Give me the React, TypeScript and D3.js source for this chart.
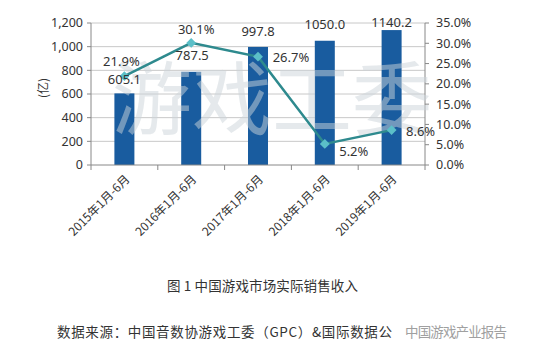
import React from "react";
import * as d3 from "d3";

const categories = ["2015年1月-6月", "2016年1月-6月", "2017年1月-6月", "2018年1月-6月", "2019年1月-6月"];
const revenue = [605.1, 787.5, 997.8, 1050.0, 1140.2];
const growth = [21.9, 30.1, 26.7, 5.2, 8.6];
const leftTicks = [0, 200, 400, 600, 800, 1000, 1200];
const rightTicks = [0, 5, 10, 15, 20, 25, 30, 35];
// label offsets (dx, dy) relative to mark
const revLabelOff: [number, number][] = [[0, -14], [1, -16], [0, -15], [0, -16], [0, -8]];
const growthLabelOff: [number, number][] = [[-3, -15], [5, -13], [33, 1], [29, 8], [29, 1]];

const FONT = "'Noto Sans', 'Noto Sans CJK SC', sans-serif";
const CJK = "'Noto Sans CJK SC', sans-serif";

export default function App() {
  const left = 91, right = 425, top = 23, bottom = 165;
  const x = d3.scaleBand<string>().domain(categories).range([left, right]);
  const yL = d3.scaleLinear().domain([0, 1200]).range([bottom, top]);
  const yR = d3.scaleLinear().domain([0, 35]).range([bottom, top]);
  const barW = 20;
  const cx = (c: string) => (x(c) ?? 0) + x.bandwidth() / 2;
  const lineGen = d3.line<number>().x((_, i) => cx(categories[i])).y((d) => yR(d));
  const boundaries = d3.range(categories.length + 1).map((i) => left + i * x.bandwidth());

  return (
    <svg width={550} height={356} style={{ position: "absolute", left: 0, top: 0, background: "#fff" }}>
      <rect x={0} y={0} width={550} height={356} fill="#fff" />
      {leftTicks.map((t) => (
        <g key={t}>
          {t > 0 && <line x1={left} x2={right} y1={yL(t)} y2={yL(t)} stroke="#c8c8c8" strokeWidth={1} />}
          <line x1={left - 4} x2={left} y1={yL(t)} y2={yL(t)} stroke="#888" />
          <text x={left - 8} y={yL(t)} dy="0.35em" textAnchor="end" fontSize={12.5} fontFamily={FONT} fill="#333">
            {d3.format(",")(t)}
          </text>
        </g>
      ))}
      {rightTicks.map((t) => (
        <g key={t}>
          <line x1={right} x2={right + 4} y1={yR(t)} y2={yR(t)} stroke="#888" />
          <text x={right + 11} y={yR(t)} dy="0.35em" textAnchor="start" fontSize={12.5} fontFamily={FONT} fill="#333">
            {t.toFixed(1)}%
          </text>
        </g>
      ))}
      <line x1={left} x2={left} y1={top} y2={bottom} stroke="#888" />
      <line x1={right} x2={right} y1={top} y2={bottom} stroke="#888" />
      {categories.map((c, i) => (
        <rect key={c} x={cx(c) - barW / 2} y={yL(revenue[i])} width={barW} height={bottom - yL(revenue[i])} fill="#195c9f" />
      ))}
      <line x1={left} x2={right} y1={bottom} y2={bottom} stroke="#888" />
      {boundaries.map((b, i) => (
        <line key={i} x1={b} x2={b} y1={bottom} y2={bottom + 5} stroke="#888" />
      ))}
      <text x={0} y={0} transform="translate(112,128)" fontSize={80} fontFamily={CJK} fill="#ccd3da" fillOpacity={0.5}>
        游戏工委
      </text>
      <path d={lineGen(growth) ?? ""} fill="none" stroke="#2e8a8e" strokeWidth={2.5} />
      {growth.map((g, i) => (
        <rect key={i} x={cx(categories[i]) - 3.5} y={yR(g) - 3.5} width={7} height={7} fill="#5bbfc8" transform={`rotate(45 ${cx(categories[i])} ${yR(g)})`} />
      ))}
      {revenue.map((v, i) => (
        <text key={i} x={cx(categories[i]) + revLabelOff[i][0]} y={yL(v) + revLabelOff[i][1]} textAnchor="middle" dy="0.35em" fontSize={13} fontFamily={FONT} fill="#333">
          {v.toFixed(1)}
        </text>
      ))}
      {growth.map((g, i) => (
        <text key={i} x={cx(categories[i]) + growthLabelOff[i][0]} y={yR(g) + growthLabelOff[i][1]} textAnchor="middle" dy="0.35em" fontSize={13} fontFamily={FONT} fill="#333">
          {g.toFixed(1)}%
        </text>
      ))}
      {categories.map((c) => (
        <text key={c} transform={`translate(${cx(c) + 3},${bottom + 12}) rotate(-45)`} textAnchor="end" dy="0.35em" fontSize={12} fontFamily={CJK} fill="#333">
          {c}
        </text>
      ))}
      <text transform="translate(44,88) rotate(-90)" textAnchor="middle" dy="0.35em" fontSize={12} fontFamily={CJK} fill="#333">
        (亿)
      </text>
      <text x={167} y={286} dy="0.35em" fontSize={13.5} fontFamily={CJK} fill="#333" textLength={191} lengthAdjust="spacing">
        图 1  中国游戏市场实际销售收入
      </text>
      <text x={57} y={332} dy="0.35em" fontSize={13.5} fontFamily={CJK} fill="#333" textLength={335} lengthAdjust="spacing">
        数据来源：中国音数协游戏工委（GPC）&amp;国际数据公
      </text>
      <text x={405} y={332} dy="0.35em" fontSize={13.5} fontFamily={CJK} fill="#a0a0a0" textLength={102} lengthAdjust="spacing">
        中国游戏产业报告
      </text>
    </svg>
  );
}
